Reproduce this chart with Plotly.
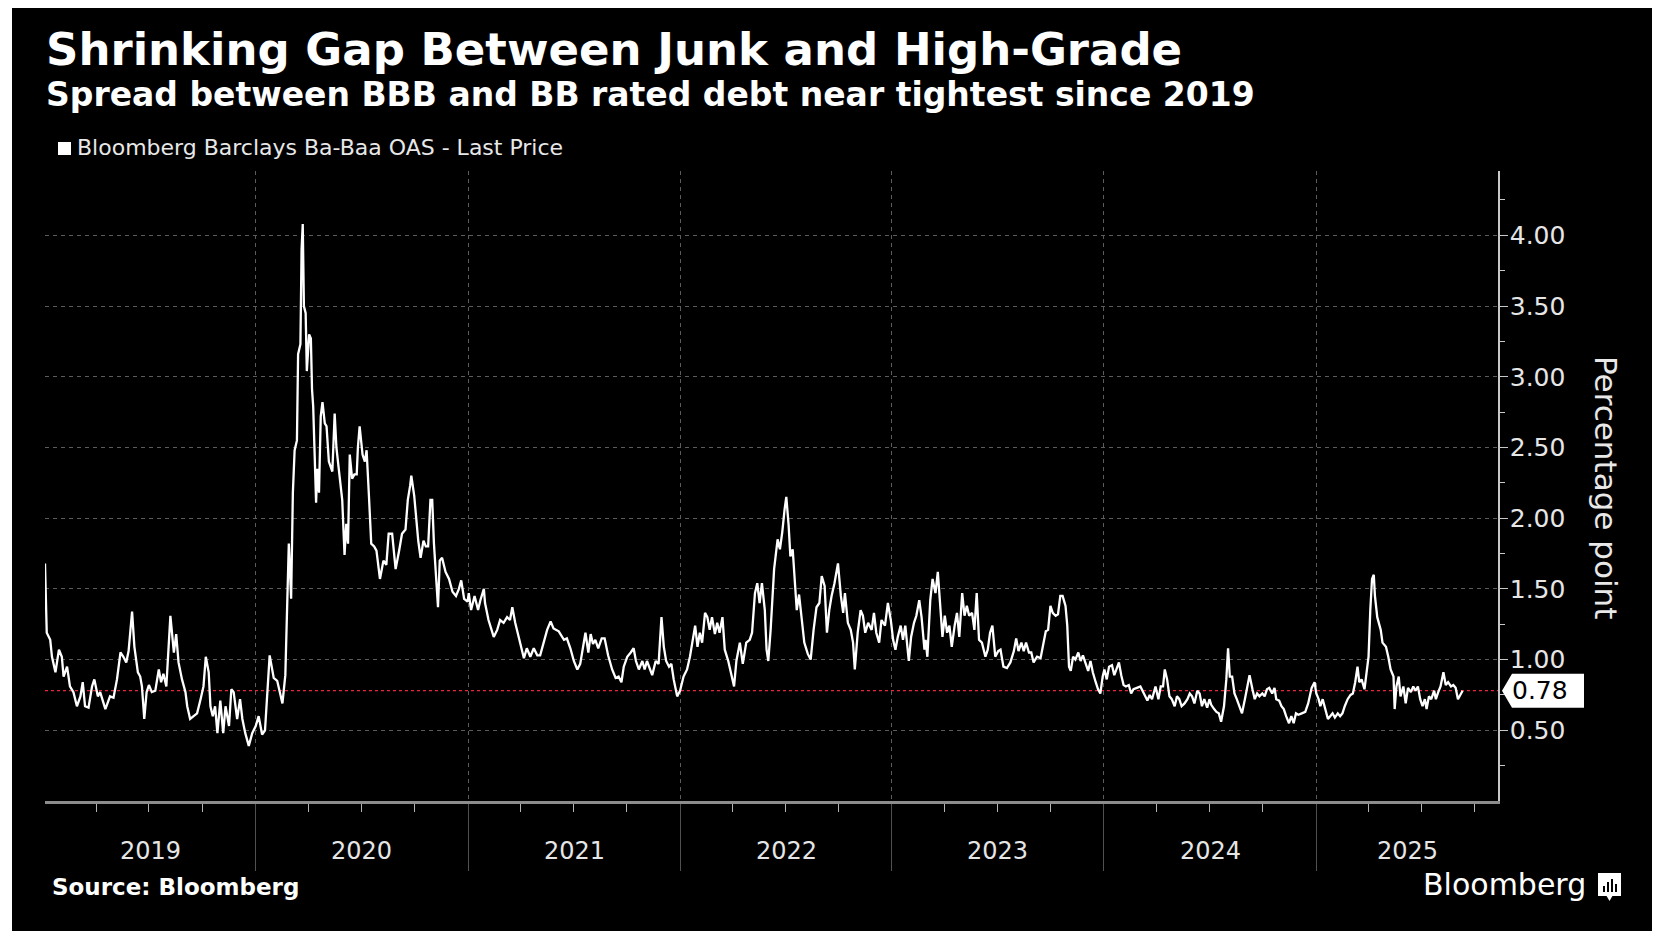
import pandas as pd
import plotly.graph_objects as go

# ---------------- data ----------------
DATES = [
    "2019-01-03", "2019-01-06", "2019-01-12", "2019-01-15", "2019-01-21", "2019-01-27", "2019-02-01", "2019-02-04",
    "2019-02-10", "2019-02-15", "2019-02-21", "2019-02-27", "2019-03-05", "2019-03-09", "2019-03-13", "2019-03-19",
    "2019-03-25", "2019-03-29", "2019-04-04", "2019-04-08", "2019-04-17", "2019-04-25", "2019-05-01", "2019-05-07",
    "2019-05-13", "2019-05-18", "2019-05-23", "2019-05-27", "2019-06-02", "2019-06-06", "2019-06-12", "2019-06-16",
    "2019-06-19", "2019-06-23", "2019-06-27", "2019-07-01", "2019-07-06", "2019-07-12", "2019-07-18", "2019-07-22",
    "2019-07-26", "2019-07-31", "2019-08-07", "2019-08-10", "2019-08-13", "2019-08-17", "2019-08-21", "2019-08-27",
    "2019-09-02", "2019-09-05", "2019-09-10", "2019-09-16", "2019-09-22", "2019-09-28", "2019-10-03", "2019-10-07",
    "2019-10-12", "2019-10-15", "2019-10-19", "2019-10-23", "2019-10-27", "2019-11-01", "2019-11-06", "2019-11-10",
    "2019-11-16", "2019-11-20", "2019-11-24", "2019-11-30", "2019-12-05", "2019-12-09", "2019-12-14", "2019-12-20",
    "2019-12-26", "2020-01-01", "2020-01-06", "2020-01-12", "2020-01-17", "2020-01-25", "2020-02-01", "2020-02-07",
    "2020-02-16", "2020-02-21", "2020-02-24", "2020-02-27", "2020-03-02", "2020-03-05", "2020-03-08", "2020-03-12",
    "2020-03-14", "2020-03-18", "2020-03-20", "2020-03-22", "2020-03-24", "2020-03-27", "2020-03-29", "2020-04-02",
    "2020-04-05", "2020-04-07", "2020-04-09", "2020-04-12", "2020-04-14", "2020-04-16", "2020-04-19", "2020-04-22",
    "2020-04-25", "2020-04-29", "2020-05-02", "2020-05-06", "2020-05-12", "2020-05-16", "2020-05-19", "2020-05-23",
    "2020-05-26", "2020-05-29", "2020-06-02", "2020-06-05", "2020-06-08", "2020-06-11", "2020-06-15", "2020-06-19",
    "2020-06-23", "2020-06-25", "2020-06-28", "2020-07-03", "2020-07-07", "2020-07-10", "2020-07-14", "2020-07-18",
    "2020-07-23", "2020-07-27", "2020-08-02", "2020-08-08", "2020-08-13", "2020-08-17", "2020-08-23", "2020-08-29",
    "2020-09-04", "2020-09-09", "2020-09-15", "2020-09-19", "2020-09-23", "2020-09-25", "2020-09-30", "2020-10-02",
    "2020-10-07", "2020-10-11", "2020-10-16", "2020-10-20", "2020-10-24", "2020-10-28", "2020-10-31", "2020-11-03",
    "2020-11-06", "2020-11-10", "2020-11-13", "2020-11-17", "2020-11-23", "2020-11-29", "2020-12-05", "2020-12-11",
    "2020-12-16", "2020-12-20", "2020-12-25", "2020-12-31", "2021-01-02", "2021-01-06", "2021-01-12", "2021-01-18",
    "2021-01-22", "2021-01-28", "2021-01-30", "2021-02-05", "2021-02-14", "2021-02-20", "2021-02-25", "2021-03-03",
    "2021-03-09", "2021-03-14", "2021-03-18", "2021-03-23", "2021-03-29", "2021-04-04", "2021-04-07", "2021-04-12",
    "2021-04-18", "2021-04-24", "2021-04-30", "2021-05-05", "2021-05-11", "2021-05-17", "2021-05-23", "2021-05-28",
    "2021-06-06", "2021-06-15", "2021-06-20", "2021-06-26", "2021-07-02", "2021-07-08", "2021-07-13", "2021-07-19",
    "2021-07-22", "2021-07-27", "2021-07-31", "2021-08-04", "2021-08-08", "2021-08-13", "2021-08-19", "2021-08-24",
    "2021-08-30", "2021-09-06", "2021-09-12", "2021-09-17", "2021-09-22", "2021-09-26", "2021-10-02", "2021-10-08",
    "2021-10-13", "2021-10-17", "2021-10-22", "2021-10-28", "2021-11-01", "2021-11-05", "2021-11-10", "2021-11-14",
    "2021-11-20", "2021-11-25", "2021-11-30", "2021-12-04", "2021-12-08", "2021-12-13", "2021-12-17", "2021-12-21",
    "2021-12-27", "2022-01-01", "2022-01-07", "2022-01-13", "2022-01-18", "2022-01-24", "2022-01-27", "2022-01-31",
    "2022-02-04", "2022-02-08", "2022-02-13", "2022-02-17", "2022-02-21", "2022-02-25", "2022-03-02", "2022-03-06",
    "2022-03-10", "2022-03-15", "2022-03-19", "2022-03-25", "2022-03-29", "2022-04-04", "2022-04-08", "2022-04-14",
    "2022-04-19", "2022-04-25", "2022-05-01", "2022-05-05", "2022-05-10", "2022-05-14", "2022-05-18", "2022-05-22",
    "2022-05-27", "2022-05-30", "2022-06-02", "2022-06-06", "2022-06-12", "2022-06-18", "2022-06-22", "2022-06-26",
    "2022-06-30", "2022-07-03", "2022-07-07", "2022-07-10", "2022-07-14", "2022-07-18", "2022-07-21", "2022-07-25",
    "2022-07-30", "2022-08-03", "2022-08-09", "2022-08-14", "2022-08-19", "2022-08-24", "2022-08-29", "2022-09-02",
    "2022-09-07", "2022-09-11", "2022-09-15", "2022-09-19", "2022-09-24", "2022-09-28", "2022-09-30", "2022-10-05",
    "2022-10-09", "2022-10-12", "2022-10-17", "2022-10-22", "2022-10-26", "2022-10-29", "2022-11-03", "2022-11-08",
    "2022-11-12", "2022-11-16", "2022-11-21", "2022-11-27", "2022-12-01", "2022-12-05", "2022-12-10", "2022-12-14",
    "2022-12-20", "2022-12-25", "2022-12-30", "2023-01-03", "2023-01-07", "2023-01-11", "2023-01-16", "2023-01-20",
    "2023-01-24", "2023-01-30", "2023-02-03", "2023-02-08", "2023-02-12", "2023-02-17", "2023-02-21", "2023-02-26",
    "2023-02-28", "2023-03-03", "2023-03-08", "2023-03-12", "2023-03-17", "2023-03-21", "2023-03-25", "2023-03-29",
    "2023-04-02", "2023-04-06", "2023-04-10", "2023-04-14", "2023-04-19", "2023-04-23", "2023-04-27", "2023-05-02",
    "2023-05-06", "2023-05-10", "2023-05-14", "2023-05-19", "2023-05-23", "2023-05-27", "2023-05-31", "2023-06-05",
    "2023-06-11", "2023-06-15", "2023-06-19", "2023-06-23", "2023-06-28", "2023-07-03", "2023-07-07", "2023-07-12",
    "2023-07-18", "2023-07-24", "2023-07-30", "2023-08-03", "2023-08-07", "2023-08-12", "2023-08-16", "2023-08-20",
    "2023-08-25", "2023-08-29", "2023-09-02", "2023-09-08", "2023-09-14", "2023-09-18", "2023-09-23", "2023-09-27",
    "2023-10-01", "2023-10-05", "2023-10-10", "2023-10-14", "2023-10-18", "2023-10-22", "2023-10-27", "2023-10-30",
    "2023-11-02", "2023-11-05", "2023-11-09", "2023-11-13", "2023-11-18", "2023-11-22", "2023-11-26", "2023-11-30",
    "2023-12-05", "2023-12-09", "2023-12-13", "2023-12-18", "2023-12-22", "2023-12-26", "2023-12-30", "2024-01-02",
    "2024-01-06", "2024-01-10", "2024-01-15", "2024-01-19", "2024-01-23", "2024-01-27", "2024-01-31", "2024-02-04",
    "2024-02-08", "2024-02-13", "2024-02-17", "2024-02-21", "2024-02-27", "2024-03-04", "2024-03-10", "2024-03-16",
    "2024-03-20", "2024-03-24", "2024-03-30", "2024-04-04", "2024-04-08", "2024-04-12", "2024-04-15", "2024-04-19",
    "2024-04-23", "2024-04-27", "2024-05-02", "2024-05-06", "2024-05-10", "2024-05-14", "2024-05-19", "2024-05-24",
    "2024-05-28", "2024-06-01", "2024-06-05", "2024-06-10", "2024-06-14", "2024-06-18", "2024-06-22", "2024-06-27",
    "2024-07-01", "2024-07-04", "2024-07-09", "2024-07-13", "2024-07-17", "2024-07-21", "2024-07-26", "2024-07-30",
    "2024-08-02", "2024-08-05", "2024-08-09", "2024-08-13", "2024-08-17", "2024-08-22", "2024-08-26", "2024-08-31",
    "2024-09-04", "2024-09-08", "2024-09-13", "2024-09-17", "2024-09-21", "2024-09-25", "2024-09-30", "2024-10-04",
    "2024-10-08", "2024-10-12", "2024-10-17", "2024-10-21", "2024-10-24", "2024-10-29", "2024-11-02", "2024-11-06",
    "2024-11-10", "2024-11-15", "2024-11-19", "2024-11-23", "2024-11-27", "2024-12-01", "2024-12-07", "2024-12-13",
    "2024-12-18", "2024-12-24", "2024-12-29", "2025-01-01", "2025-01-05", "2025-01-08", "2025-01-12", "2025-01-16",
    "2025-01-21", "2025-01-25", "2025-01-29", "2025-02-02", "2025-02-07", "2025-02-11", "2025-02-15", "2025-02-19",
    "2025-02-24", "2025-03-01", "2025-03-05", "2025-03-09", "2025-03-13", "2025-03-16", "2025-03-20", "2025-03-25",
    "2025-03-29", "2025-04-01", "2025-04-04", "2025-04-07", "2025-04-10", "2025-04-12", "2025-04-16", "2025-04-22",
    "2025-04-25", "2025-05-01", "2025-05-05", "2025-05-09", "2025-05-14", "2025-05-16", "2025-05-19", "2025-05-23",
    "2025-05-26", "2025-05-31", "2025-06-04", "2025-06-08", "2025-06-13", "2025-06-17", "2025-06-21", "2025-06-25",
    "2025-06-29", "2025-07-03", "2025-07-07", "2025-07-10", "2025-07-14", "2025-07-18", "2025-07-23", "2025-07-26",
    "2025-07-30", "2025-08-03", "2025-08-08", "2025-08-12", "2025-08-16", "2025-08-21", "2025-08-25", "2025-08-29",
    "2025-09-02", "2025-09-06", "2025-09-10",
]

VALUES = [
    1.68, 1.19, 1.14, 1.02, 0.91, 1.07, 1.02, 0.88,
    0.95, 0.81, 0.77, 0.67, 0.74, 0.84, 0.67, 0.66,
    0.81, 0.86, 0.74, 0.77, 0.65, 0.74, 0.73, 0.86,
    1.05, 1.02, 0.98, 1.06, 1.34, 1.09, 0.91, 0.88,
    0.81, 0.58, 0.77, 0.82, 0.77, 0.78, 0.93, 0.84,
    0.90, 0.81, 1.31, 1.19, 1.05, 1.18, 0.98, 0.86,
    0.77, 0.67, 0.58, 0.60, 0.62, 0.72, 0.81, 1.02,
    0.91, 0.67, 0.60, 0.67, 0.48, 0.71, 0.48, 0.67,
    0.53, 0.79, 0.77, 0.58, 0.72, 0.58, 0.48, 0.39,
    0.48, 0.53, 0.60, 0.47, 0.50, 1.03, 0.87, 0.85,
    0.69, 0.89, 1.33, 1.82, 1.43, 2.18, 2.48, 2.55,
    3.16, 3.23, 3.90, 4.08, 3.50, 3.45, 3.04, 3.30,
    3.27, 2.91, 2.79, 2.38, 2.11, 2.35, 2.18, 2.72,
    2.82, 2.67, 2.65, 2.40, 2.33, 2.74, 2.50, 2.35,
    2.23, 2.13, 1.74, 1.96, 1.82, 2.45, 2.28, 2.31,
    2.31, 2.50, 2.65, 2.45, 2.40, 2.48, 2.16, 1.82,
    1.80, 1.77, 1.57, 1.70, 1.67, 1.89, 1.89, 1.64,
    1.77, 1.89, 1.92, 2.13, 2.23, 2.30, 2.16, 2.06,
    1.84, 1.72, 1.84, 1.80, 1.80, 2.13, 2.13, 1.82,
    1.62, 1.37, 1.70, 1.72, 1.62, 1.57, 1.48, 1.45,
    1.50, 1.56, 1.43, 1.41, 1.47, 1.35, 1.45, 1.35,
    1.42, 1.50, 1.40, 1.28, 1.16, 1.21, 1.28, 1.26,
    1.30, 1.28, 1.37, 1.26, 1.16, 1.07, 1.01, 1.08,
    1.02, 1.08, 1.03, 1.03, 1.12, 1.21, 1.27, 1.22,
    1.20, 1.14, 1.15, 1.08, 0.99, 0.93, 0.97, 1.12,
    1.19, 1.05, 1.18, 1.11, 1.14, 1.08, 1.15, 1.15,
    1.03, 0.93, 0.87, 0.88, 0.84, 0.95, 1.02, 1.05,
    1.08, 0.99, 0.93, 0.99, 0.93, 0.99, 0.93, 0.89,
    0.99, 0.97, 1.30, 1.09, 0.99, 0.95, 0.97, 0.86,
    0.74, 0.78, 0.88, 0.93, 1.02, 1.19, 1.24, 1.09,
    1.19, 1.12, 1.33, 1.30, 1.21, 1.30, 1.18, 1.26,
    1.19, 1.30, 1.07, 0.99, 0.91, 0.81, 0.99, 1.12,
    0.97, 1.12, 1.14, 1.19, 1.47, 1.54, 1.40, 1.54,
    1.35, 1.07, 0.99, 1.21, 1.64, 1.85, 1.78, 1.90,
    2.06, 2.15, 1.95, 1.73, 1.78, 1.50, 1.35, 1.46,
    1.28, 1.12, 1.04, 1.00, 1.21, 1.37, 1.40, 1.59,
    1.52, 1.19, 1.35, 1.45, 1.54, 1.64, 1.68, 1.45,
    1.33, 1.47, 1.26, 1.21, 1.12, 0.93, 1.19, 1.35,
    1.31, 1.19, 1.26, 1.21, 1.33, 1.19, 1.12, 1.28,
    1.24, 1.40, 1.28, 1.14, 1.07, 1.16, 1.24, 1.14,
    1.24, 0.99, 1.16, 1.26, 1.31, 1.42, 1.30, 1.07,
    1.14, 1.02, 1.42, 1.57, 1.47, 1.62, 1.42, 1.16,
    1.31, 1.19, 1.24, 1.09, 1.24, 1.33, 1.16, 1.47,
    1.31, 1.38, 1.31, 1.33, 1.21, 1.47, 1.14, 1.12,
    1.02, 1.07, 1.19, 1.24, 1.02, 1.06, 1.07, 0.95,
    0.94, 0.98, 1.06, 1.15, 1.06, 1.12, 1.06, 1.12,
    1.05, 1.05, 0.98, 1.02, 1.01, 1.09, 1.20, 1.21,
    1.38, 1.33, 1.31, 1.32, 1.45, 1.45, 1.38, 1.24,
    0.95, 0.92, 1.02, 1.00, 1.05, 0.99, 1.03, 0.98,
    0.92, 0.99, 0.91, 0.84, 0.79, 0.76, 0.88, 0.93,
    0.86, 0.95, 0.96, 0.89, 0.93, 0.98, 0.89, 0.82,
    0.81, 0.82, 0.76, 0.79, 0.80, 0.81, 0.76, 0.71,
    0.75, 0.72, 0.81, 0.72, 0.81, 0.81, 0.93, 0.86,
    0.74, 0.72, 0.67, 0.74, 0.72, 0.67, 0.69, 0.72,
    0.76, 0.74, 0.69, 0.78, 0.76, 0.67, 0.72, 0.66,
    0.72, 0.68, 0.65, 0.63, 0.62, 0.56, 0.67, 0.86,
    1.08, 0.88, 0.88, 0.76, 0.72, 0.67, 0.62, 0.72,
    0.81, 0.89, 0.79, 0.72, 0.76, 0.74, 0.76, 0.74,
    0.79, 0.80, 0.76, 0.80, 0.72, 0.71, 0.67, 0.65,
    0.60, 0.55, 0.60, 0.55, 0.62, 0.61, 0.62, 0.63,
    0.69, 0.80, 0.84, 0.76, 0.72, 0.67, 0.72, 0.65,
    0.58, 0.60, 0.62, 0.59, 0.62, 0.60, 0.62, 0.67,
    0.72, 0.75, 0.76, 0.84, 0.95, 0.84, 0.86, 0.79,
    0.93, 1.02, 1.35, 1.57, 1.60, 1.45, 1.30, 1.21,
    1.12, 1.09, 1.02, 0.93, 0.88, 0.65, 0.81, 0.88,
    0.74, 0.81, 0.69, 0.80, 0.77, 0.81, 0.78, 0.81,
    0.72, 0.67, 0.72, 0.65, 0.74, 0.72, 0.78, 0.72,
    0.77, 0.81, 0.91, 0.82, 0.84, 0.81, 0.82, 0.80,
    0.72, 0.75, 0.78,
]

Y_TICKS = [0.5, 1.0, 1.5, 2.0, 2.5, 3.0, 3.5, 4.0]
Y_MINOR = [0.25, 0.75, 1.25, 1.75, 2.25, 2.75, 3.25, 3.75, 4.25]
YEARS = ["2019", "2020", "2021", "2022", "2023", "2024", "2025"]

TITLE = "Shrinking Gap Between Junk and High-Grade"
SUBTITLE = "Spread between BBB and BB rated debt near tightest since 2019"
SERIES_NAME = "Bloomberg Barclays Ba-Baa OAS - Last Price"
Y_TITLE = "Percentage point"
SOURCE = "Source: Bloomberg"
BRAND = "Bloomberg"

# ---------------- layout geometry ----------------
OFF = 8                       # page body margin in front of the figure
W, H = 1660 - OFF, 935 - OFF
ML, MT = 45 - OFF, 171 - OFF
PW, PH = 1453, 630
MR, MB = W - ML - PW, H - MT - PH
X_RANGE = ["2019-01-03", "2025-11-10"]
Y_RANGE = [0, 4.455]
FONT = "DejaVu Sans"


def px(x):
    """page x pixel -> paper fraction"""
    return (x - OFF - ML) / PW


def py(y):
    """page y pixel -> paper fraction"""
    return (MT + PH - (y - OFF)) / PH


fig = go.Figure()
fig.add_trace(go.Scatter(
    x=DATES, y=VALUES, mode="lines", name=SERIES_NAME,
    line=dict(color="white", width=2.3), showlegend=False,
))

shapes = []
# black card on white page
shapes.append(dict(type="rect", xref="paper", yref="paper", layer="below",
                   x0=px(12), x1=px(1652), y0=py(931), y1=py(6),
                   fillcolor="black", line=dict(width=0)))
# last-value reference line
last = VALUES[-1]
shapes.append(dict(type="line", xref="paper", yref="y", x0=0, x1=1, y0=last, y1=last,
                   line=dict(color="#e8283a", width=1.2, dash="dot"), layer="below"))
# last-value label box (pointer)
hh = 17 / PH * (Y_RANGE[1] - Y_RANGE[0])
tip, lft, rgt = px(1502), px(1512), px(1584)
path = (f"M {tip},{last} L {lft},{last + hh} L {rgt},{last + hh} "
        f"L {rgt},{last - hh} L {lft},{last - hh} Z")
shapes.append(dict(type="path", xref="paper", yref="y", path=path,
                   fillcolor="white", line=dict(width=0), layer="above"))
# legend swatch
shapes.append(dict(type="rect", xref="paper", yref="paper",
                   x0=px(58), x1=px(71), y0=py(155), y1=py(142),
                   fillcolor="white", line=dict(width=0)))
# brand icon
shapes.append(dict(type="rect", xref="paper", yref="paper",
                   x0=px(1598), x1=px(1621), y0=py(896), y1=py(873),
                   fillcolor="white", line=dict(width=0)))
shapes.append(dict(type="path", xref="paper", yref="paper",
                   path=f"M {px(1606)},{py(895)} L {px(1613)},{py(895)} L {px(1609.5)},{py(901)} Z",
                   fillcolor="white", line=dict(width=0)))
for bx, btop in [(1603, 886), (1607, 882), (1611, 879), (1615, 884)]:
    shapes.append(dict(type="rect", xref="paper", yref="paper",
                       x0=px(bx), x1=px(bx + 2), y0=py(892), y1=py(btop),
                       fillcolor="black", line=dict(width=0)))

annotations = []
annotations.append(dict(text=f"<b>{TITLE}</b>", xref="paper", yref="paper",
                        x=px(44), y=py(49), xanchor="left", yanchor="middle",
                        showarrow=False, font=dict(family=FONT, size=45, color="white")))
annotations.append(dict(text=f"<b>{SUBTITLE}</b>", xref="paper", yref="paper",
                        x=px(44), y=py(94), xanchor="left", yanchor="middle",
                        showarrow=False, font=dict(family=FONT, size=33, color="white")))
annotations.append(dict(text=SERIES_NAME, xref="paper", yref="paper",
                        x=px(75), y=py(148), xanchor="left", yanchor="middle",
                        showarrow=False, font=dict(family=FONT, size=22, color="#e8e8e8")))
annotations.append(dict(text=Y_TITLE, xref="paper", yref="paper",
                        x=px(1606), y=py(487), xanchor="center", yanchor="middle",
                        textangle=90, showarrow=False,
                        font=dict(family=FONT, size=31, color="#e8e8e8")))
annotations.append(dict(text=f"{last:.2f}", xref="paper", yref="y",
                        x=px(1510), y=last, xanchor="left", yanchor="middle",
                        showarrow=False, font=dict(family=FONT, size=25, color="black")))
annotations.append(dict(text=f"<b>{SOURCE}</b>", xref="paper", yref="paper",
                        x=px(50), y=py(887), xanchor="left", yanchor="middle",
                        showarrow=False, font=dict(family=FONT, size=23, color="white")))
annotations.append(dict(text=BRAND, xref="paper", yref="paper",
                        x=px(1588), y=py(884), xanchor="right", yanchor="middle",
                        showarrow=False, font=dict(family=FONT, size=30, color="white")))

# year labels centred on the visible part of each year
r0, r1 = pd.Timestamp(X_RANGE[0]), pd.Timestamp(X_RANGE[1])
for yr in YEARS:
    a = max(pd.Timestamp(f"{yr}-01-01"), r0)
    b = min(pd.Timestamp(f"{int(yr) + 1}-01-01"), r1)
    mid = a + (b - a) / 2
    annotations.append(dict(text=yr, xref="x", yref="paper",
                            x=mid.strftime("%Y-%m-%d %H:%M"), y=py(851),
                            xanchor="center", yanchor="middle", showarrow=False,
                            font=dict(family=FONT, size=24, color="#e6e6e6")))

fig.update_layout(
    width=W, height=H,
    margin=dict(l=ML, r=MR, t=MT, b=MB, pad=0),
    paper_bgcolor="white", plot_bgcolor="black",
    font=dict(family=FONT, color="white"),
    showlegend=False,
    shapes=shapes, annotations=annotations,
    xaxis=dict(
        type="date", range=X_RANGE, showticklabels=False,
        tick0="2019-01-01", dtick="M12",
        ticks="outside", ticklen=67, tickwidth=1, tickcolor="#505050",
        showgrid=True, gridcolor="#5c5c5c", gridwidth=1, griddash="4px,4px",
        showline=True, linecolor="#8c8c8c", linewidth=3, zeroline=False,
        minor=dict(tick0="2019-01-01", dtick="M3", ticks="outside", ticklen=8,
                   tickwidth=1, tickcolor="#b4b4b4", showgrid=False),
    ),
    yaxis=dict(
        range=Y_RANGE, side="right",
        tickmode="array", tickvals=Y_TICKS, ticktext=[f"{v:.2f}" for v in Y_TICKS],
        tickfont=dict(family=FONT, size=25, color="#e6e6e6"),
        ticks="outside", ticklen=8, tickwidth=1, tickcolor="#c8c8c8",
        ticklabelstandoff=-3,
        showgrid=True, gridcolor="#5c5c5c", gridwidth=1, griddash="4px,4px",
        showline=True, linecolor="#c8c8c8", linewidth=1.5, zeroline=False,
        minor=dict(tickmode="array", tickvals=Y_MINOR, ticks="outside", ticklen=5,
                   tickwidth=1, tickcolor="#c8c8c8", showgrid=False),
    ),
)

fig.write_html("out.html")
